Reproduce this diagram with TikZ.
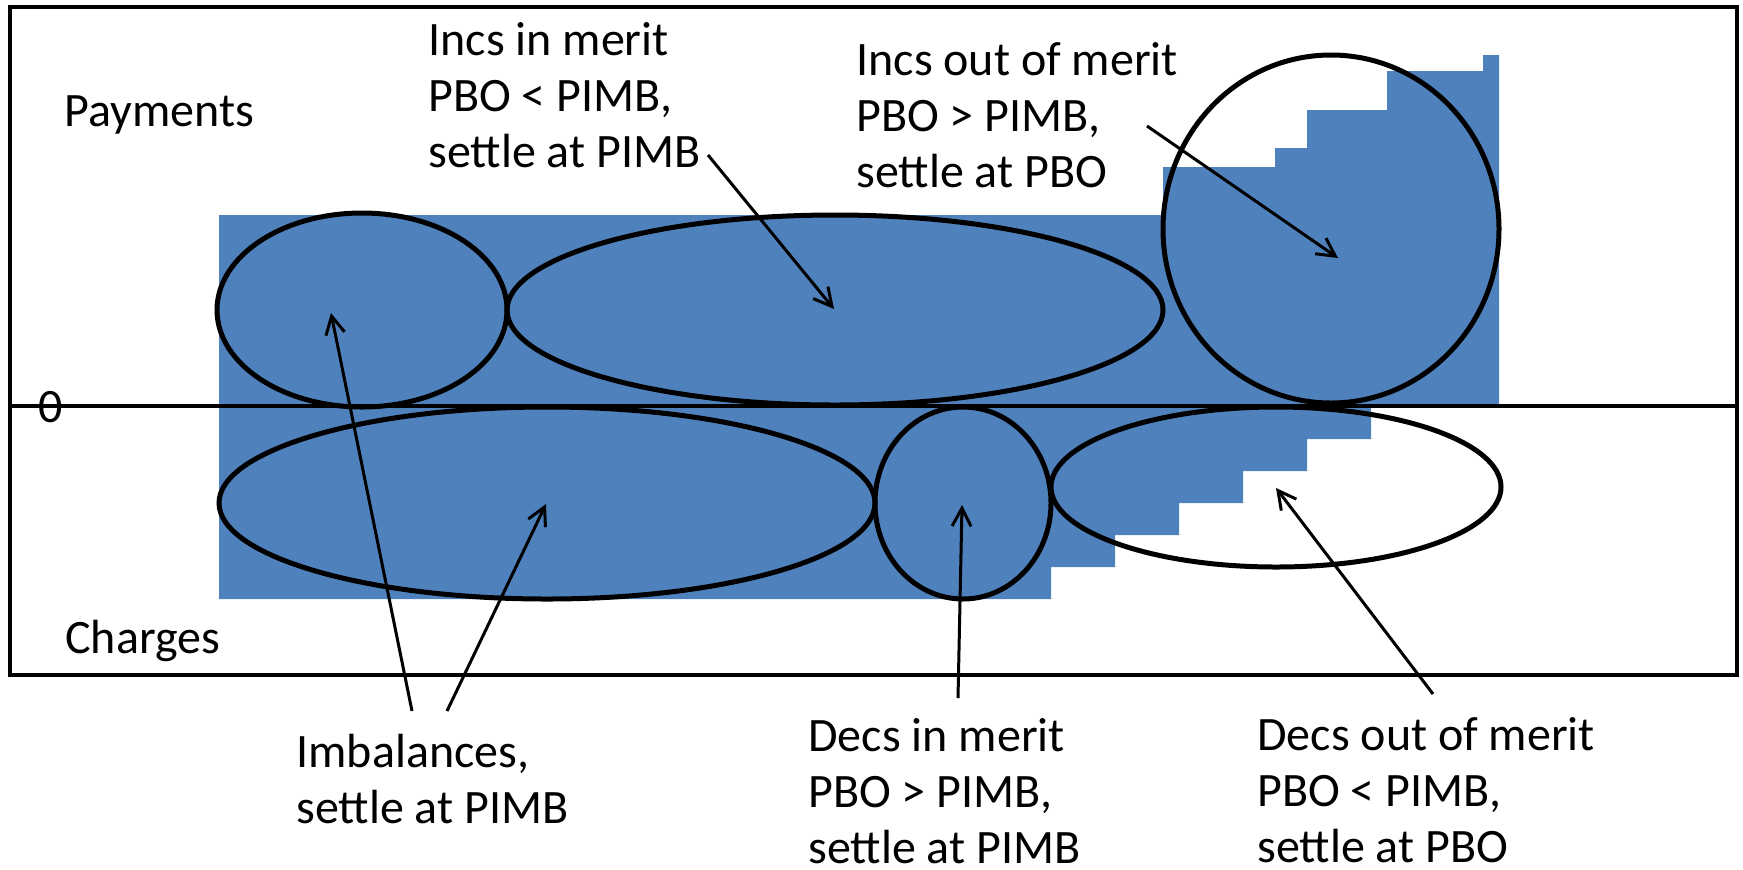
\documentclass[tikz,border=0pt]{standalone}
\usepackage{fontspec}
\setmainfont{Carlito}
\usetikzlibrary{arrows.meta}
\definecolor{volblue}{RGB}{79,129,189}

\begin{document}
\begin{tikzpicture}[x=0.5pt,y=-0.5pt,
    >={Straight Barb[length=9pt,width=9.5pt]},
    lbl/.style={anchor=base west,inner sep=0pt,align=left,font=\fontsize{24}{28}\selectfont},
    ring/.style={line width=2.5pt},
    pointer/.style={->,line width=1.5pt}]
    \useasboundingbox (0,0) rectangle (1743,869);
    % accepted volumes
    \fill[volblue] (219,215) -- (1163,215) -- (1163,167) -- (1275,167) -- (1275,148)
        -- (1307,148) -- (1307,110) -- (1387,110) -- (1387,71) -- (1483,71)
        -- (1483,55) -- (1499,55) -- (1499,406) -- (1371,406) -- (1371,439)
        -- (1307,439) -- (1307,471) -- (1243,471) -- (1243,503) -- (1179,503)
        -- (1179,535) -- (1115,535) -- (1115,567) -- (1051,567) -- (1051,599)
        -- (219,599) -- cycle;
    \draw[line width=2pt] (10,7) rectangle (1737,675);
    \draw[line width=2pt] (10,406) -- (1737,406);
    % groups
    \draw[ring] (362,310) ellipse [x radius=145, y radius=97];
    \draw[ring] (835,310) ellipse [x radius=328, y radius=95];
    \draw[ring] (1331,229) ellipse [x radius=168, y radius=174];
    \draw[ring] (547,503) ellipse [x radius=328, y radius=96];
    \draw[ring] (963,503) ellipse [x radius=88, y radius=96];
    \draw[ring] (1276,487) ellipse [x radius=225, y radius=80];
    % labels (base = last line)
    \node[lbl] (pay) at (64,126) {Payments};
    \node[lbl] (chg) at (65,653) {Charges};
    \node[lbl] (zero) at (38,422) {0};
    \node[lbl] (incin) at (428,167) {Incs in merit\\PBO < PIMB,\\settle at PIMB};
    \node[lbl] (incout) at (856,187) {Incs out of merit\\PBO > PIMB,\\settle at PBO};
    \node[lbl] (imb) at (296,823) {Imbalances,\\settle at PIMB};
    \node[lbl] (decin) at (808,863) {Decs in merit\\PBO > PIMB,\\settle at PIMB};
    \node[lbl] (decout) at (1257,862) {Decs out of merit\\PBO < PIMB,\\settle at PBO};
    % arrow ends
    \coordinate (imbA) at (412,711);
    \coordinate (imbB) at (447,711);
    \coordinate (incinT) at (708,155);
    \coordinate (incoutT) at (1147,126);
    \coordinate (decinT) at (958,698);
    \coordinate (decoutT) at (1433,694);
    \coordinate (imbup) at (331,313);
    \coordinate (imbdown) at (546,504);
    \coordinate (incinH) at (834,309);
    \coordinate (incoutH) at (1338,258);
    \coordinate (decinH) at (962,505);
    \coordinate (decoutH) at (1276,488);
    \draw[pointer] (imbA) -- (imbup);
    \draw[pointer] (imbB) -- (imbdown);
    \draw[pointer] (incinT) -- (incinH);
    \draw[pointer] (incoutT) -- (incoutH);
    \draw[pointer] (decinT) -- (decinH);
    \draw[pointer] (decoutT) -- (decoutH);
\end{tikzpicture}
\end{document}
